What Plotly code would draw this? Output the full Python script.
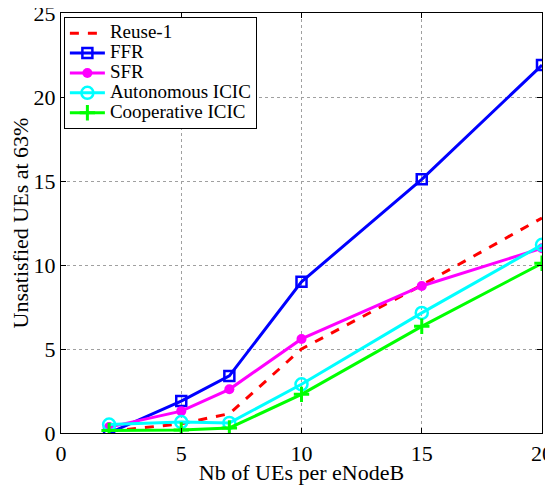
import plotly.graph_objects as go

x_nb = [2, 5, 7, 10, 15, 20]
reuse1 = [0.1, 0.55, 1.15, 5.0, 8.8, 12.8]
ffr = [0.0, 1.9, 3.4, 9.0, 15.1, 21.9]
sfr = [0.35, 1.3, 2.6, 5.6, 8.75, 11.0]
auto_icic = [0.5, 0.65, 0.6, 2.9, 7.15, 11.2]
coop_icic = [0.15, 0.18, 0.3, 2.3, 6.35, 10.1]

series_names = ["Reuse-1", "FFR", "SFR", "Autonomous ICIC", "Cooperative ICIC"]
x_ticks = [0, 5, 10, 15, 20]
y_ticks = [0, 5, 10, 15, 20, 25]

font_fam = "'Liberation Serif', 'Times New Roman', Times, serif"


def leg(name):
    return '<span style="font-size:19px">' + name + '</span>'


fig = go.Figure()
fig.add_trace(go.Scatter(x=x_nb, y=reuse1, name=leg(series_names[0]), mode="lines",
                         line=dict(color="#ff0000", width=3, dash="dash")))
fig.add_trace(go.Scatter(x=x_nb, y=ffr, name=leg(series_names[1]), mode="lines+markers",
                         line=dict(color="#0000ff", width=3),
                         marker=dict(symbol="square-open", size=10, color="#0000ff",
                                     line=dict(width=2.5, color="#0000ff"))))
fig.add_trace(go.Scatter(x=x_nb, y=sfr, name=leg(series_names[2]), mode="lines+markers",
                         line=dict(color="#ff00ff", width=3),
                         marker=dict(symbol="circle", size=10, color="#ff00ff")))
fig.add_trace(go.Scatter(x=x_nb, y=auto_icic, name=leg(series_names[3]), mode="lines+markers",
                         line=dict(color="#00ffff", width=3),
                         marker=dict(symbol="circle-open", size=12, color="#00ffff",
                                     line=dict(width=2.5, color="#00ffff"))))
fig.add_trace(go.Scatter(x=x_nb, y=coop_icic, name=leg(series_names[4]), mode="lines+markers",
                         line=dict(color="#00ff00", width=3),
                         marker=dict(symbol="cross-thin-open", size=11, color="#00ff00",
                                     line=dict(width=3, color="#00ff00"))))

axis_common = dict(
    showline=True, linecolor="black", linewidth=1.2, mirror="ticks",
    ticks="inside", ticklen=5, tickcolor="black",
    showgrid=True, gridcolor="#a0a0a0", griddash="dot", gridwidth=1,
    zeroline=False, ticklabeloverflow="allow", automargin=False,
    tickfont=dict(family=font_fam, size=22, color="black"),
)

fig.update_xaxes(range=[0, 20], tickvals=x_ticks,
                 title=dict(text="Nb of UEs per eNodeB", standoff=0,
                            font=dict(family=font_fam, size=22, color="black")),
                 **axis_common)
fig.update_yaxes(range=[0, 25], tickvals=y_ticks,
                 title=dict(text="Unsatisfied UEs at 63%", standoff=4,
                            font=dict(family=font_fam, size=22, color="black")),
                 **axis_common)

fig.update_layout(
    width=545, height=477,
    margin=dict(l=53, r=11, t=5, b=52),
    plot_bgcolor="white", paper_bgcolor="white",
    font=dict(family=font_fam, color="black"),
    legend=dict(x=0.006, y=0.99, xanchor="left", yanchor="top",
                bgcolor="white", bordercolor="black", borderwidth=1,
                font=dict(family=font_fam, size=13, color="black"),
                tracegroupgap=0, itemwidth=35),
)

fig.write_html("out.html")
